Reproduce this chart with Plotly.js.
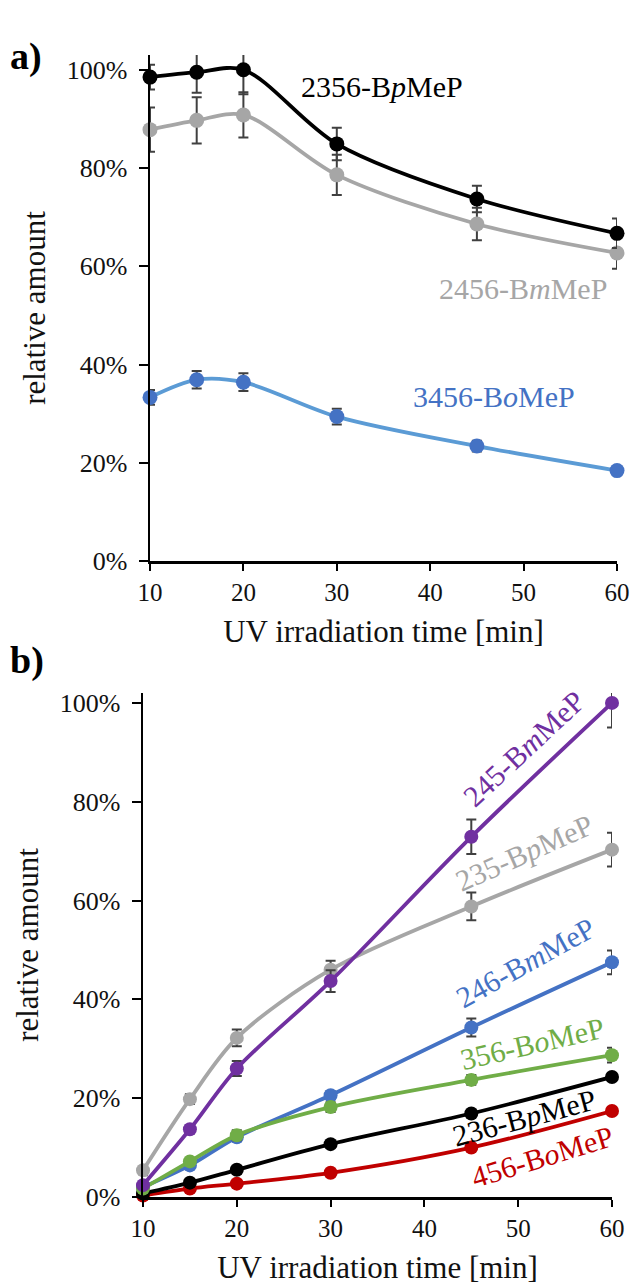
<!DOCTYPE html>
<html>
<head>
<meta charset="utf-8">
<script src="https://cdn.plot.ly/plotly-3.0.1.min.js"></script>
<style>html,body{margin:0;padding:0;background:#fff;}#chart{width:633px;height:1288px;}</style>
</head>
<body>
<div id="chart"></div>
<script>
// ---- data ----
const times = [10, 15, 20, 30, 45, 60];

// panel a)
const a_2356BpMeP = [0.985, 0.995, 1.000, 0.849, 0.737, 0.667];
const a_2356BpMeP_err = [0.025, 0.042, 0.050, 0.033, 0.027, 0.030];
const a_2456BmMeP = [0.878, 0.897, 0.908, 0.786, 0.686, 0.627];
const a_2456BmMeP_err = [0.045, 0.047, 0.046, 0.041, 0.033, 0.032];
const a_3456BoMeP = [0.333, 0.369, 0.364, 0.294, 0.234, 0.184];
const a_3456BoMeP_err = [0.015, 0.018, 0.018, 0.016, 0.011, 0.005];

// panel b)
const b_245BmMeP = [0.024, 0.137, 0.260, 0.437, 0.729, 1.000];
const b_245BmMeP_err = [0.005, 0.008, 0.015, 0.022, 0.035, 0.050];
const b_235BpMeP = [0.054, 0.198, 0.322, 0.460, 0.588, 0.703];
const b_235BpMeP_err = [0.010, 0.010, 0.017, 0.018, 0.028, 0.034];
const b_246BmMeP = [0.020, 0.064, 0.121, 0.206, 0.343, 0.475];
const b_246BmMeP_err = [0.005, 0.005, 0.007, 0.008, 0.018, 0.024];
const b_356BoMeP = [0.017, 0.072, 0.125, 0.182, 0.237, 0.287];
const b_356BoMeP_err = [0.003, 0.005, 0.010, 0.010, 0.010, 0.015];
const b_236BpMeP = [0.007, 0.029, 0.055, 0.107, 0.169, 0.243];
const b_236BpMeP_err = [0.003, 0.004, 0.005, 0.006, 0.006, 0.008];
const b_456BoMeP = [0.003, 0.017, 0.027, 0.049, 0.100, 0.174];
const b_456BoMeP_err = [0.002, 0.003, 0.003, 0.004, 0.006, 0.007];

const tickVals = [10, 20, 30, 40, 50, 60];
const xTitle = 'UV irradiation time [min]';
const yTitle = 'relative amount';

// ---- styling helpers ----
const FONT = 'Liberation Serif';
const ERRC = '#404040';
function series(x, y, err, color, lineColor, xa, ya, msize) {
  return {
    type: 'scatter', mode: 'lines+markers', x: x, y: y,
    xaxis: xa, yaxis: ya, cliponaxis: false,
    line: {color: lineColor || color, width: 3.8, shape: 'spline', smoothing: 0.9},
    marker: {color: color, size: msize || 15},
    error_y: {type: 'data', array: err, visible: true, color: ERRC, thickness: 2, width: 5},
    hoverinfo: 'x+y', showlegend: false
  };
}

const traces = [
  series(times, a_2456BmMeP, a_2456BmMeP_err, '#a6a6a6', null, 'x', 'y'),
  series(times, a_2356BpMeP, a_2356BpMeP_err, '#000000', null, 'x', 'y'),
  series(times, a_3456BoMeP, a_3456BoMeP_err, '#4472c4', '#5b9bd5', 'x', 'y'),

  series(times, b_456BoMeP, b_456BoMeP_err, '#c00000', null, 'x2', 'y2', 14),
  series(times, b_236BpMeP, b_236BpMeP_err, '#000000', null, 'x2', 'y2', 14),
  series(times, b_246BmMeP, b_246BmMeP_err, '#4472c4', null, 'x2', 'y2', 14),
  series(times, b_356BoMeP, b_356BoMeP_err, '#70ad47', null, 'x2', 'y2', 14),
  series(times, b_235BpMeP, b_235BpMeP_err, '#a6a6a6', null, 'x2', 'y2', 14),
  series(times, b_245BmMeP, b_245BmMeP_err, '#7030a0', null, 'x2', 'y2', 14)
];

const W = 633, H = 1288;
function xaxisDef(l, r, anchor) {
  return {
    domain: [l / W, r / W], range: [10, 60], anchor: anchor,
    tickvals: tickVals, ticks: 'outside', ticklen: 7, tickwidth: 2, tickcolor: '#000',
    showline: true, linecolor: '#000', linewidth: 2.5, showgrid: false, zeroline: false,
    tickfont: {family: FONT, size: 25, color: '#111'},
    title: {text: xTitle, font: {family: FONT, size: 31, color: '#111'}, standoff: 16},
    automargin: false, fixedrange: true
  };
}
function yaxisDef(bottomPx, topPx, rmax, anchor) {
  return {
    domain: [(H - bottomPx) / H, (H - topPx) / H], range: [0, rmax], anchor: anchor,
    tickvals: [0, 0.2, 0.4, 0.6, 0.8, 1.0], tickformat: '.0%',
    ticks: 'outside', ticklen: 9, tickwidth: 2, tickcolor: '#000',
    ticklabelstandoff: 6,
    showline: true, linecolor: '#000', linewidth: 2.5, showgrid: false, zeroline: false,
    tickfont: {family: FONT, size: 26, color: '#111'},
    title: {text: yTitle, font: {family: FONT, size: 31, color: '#111'}, standoff: 12},
    automargin: false, fixedrange: true
  };
}

function lab(text, x, y, color, ang, xr, yr) {
  return {text: text, x: x, y: y, xref: xr, yref: yr, showarrow: false,
    textangle: ang || 0, font: {family: FONT, size: 30, color: color}};
}

const layout = {
  width: W, height: H,
  margin: {l: 0, r: 0, t: 0, b: 0},
  paper_bgcolor: '#fff', plot_bgcolor: 'rgba(0,0,0,0)',
  font: {family: FONT, color: '#111'},
  xaxis: xaxisDef(150, 617, 'y'),
  yaxis: yaxisDef(561, 55, 1.03, 'x'),
  xaxis2: xaxisDef(143, 612, 'y2'),
  yaxis2: yaxisDef(1197, 693, 1.02, 'x2'),
  annotations: [
    {text: '<b>a)</b>', x: 8 / W, y: 1 - 33 / H, xref: 'paper', yref: 'paper', xanchor: 'left', showarrow: false,
      font: {family: FONT, size: 38, color: '#000'}},
    {text: '<b>b)</b>', x: 8 / W, y: 1 - 660 / H, xref: 'paper', yref: 'paper', xanchor: 'left', showarrow: false,
      font: {family: FONT, size: 38, color: '#000'}},
    lab('2356-B<i>p</i>MeP', 34.8, 0.965, '#000000', 0, 'x', 'y'),
    lab('2456-B<i>m</i>MeP', 49.9, 0.555, '#a6a6a6', 0, 'x', 'y'),
    lab('3456-B<i>o</i>MeP', 46.8, 0.335, '#4472c4', 0, 'x', 'y'),

    lab('245-B<i>m</i>MeP', 50.6, 0.908, '#7030a0', -43, 'x2', 'y2'),
    lab('235-B<i>p</i>MeP', 50.7, 0.697, '#a6a6a6', -24, 'x2', 'y2'),
    lab('246-B<i>m</i>MeP', 50.8, 0.474, '#4472c4', -29, 'x2', 'y2'),
    lab('356-B<i>o</i>MeP', 51.5, 0.310, '#70ad47', -13, 'x2', 'y2'),
    lab('236-B<i>p</i>MeP', 50.7, 0.160, '#000000', -15, 'x2', 'y2'),
    lab('456-B<i>o</i>MeP', 52.6, 0.082, '#c00000', -17, 'x2', 'y2')
  ]
};

Plotly.newPlot('chart', traces, layout, {displayModeBar: false, staticPlot: true});
</script>
</body>
</html>
